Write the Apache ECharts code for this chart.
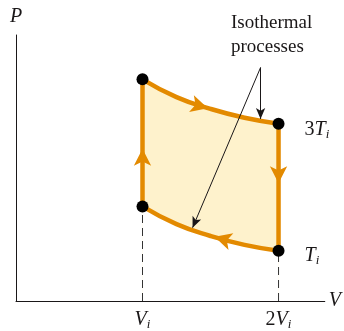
<!DOCTYPE html>
<html>
<head>
<meta charset="utf-8">
<script src="https://cdn.jsdelivr.net/npm/echarts@6/dist/echarts.min.js"></script>
<style>
  html, body { margin: 0; padding: 0; background: #fff; }
  #container { width: 344px; height: 331px; }
</style>
</head>
<body>
<div id="container"></div>
<script>
// volumes (Vi = 1) and the two isotherms
var vols = [1, 1.25, 1.5, 1.75, 2];
var hotP = [7.5, 6.9, 6.5, 6.2, 6.0];   // 3Ti
var coldP = [3.2, 2.6, 2.2, 1.9, 1.7];  // Ti
var xTicks = [1, 2];
var xTickText = ['{it|V}{sub|i}', '{n|2}{it|V}{sub|i}'];
var isoText = ['Isothermal', 'processes'];
var tempText = ['{n|3}{it|T}{sub|i}', '{it|T}{sub|i}'];
// arrow heads on the cycle: [V, P, rotate]
var heads = [[1.48, 6.52, -106], [1.53, 2.17, 74], [1, 5.15, 0], [2, 3.98, 180]];
// pointer lines from the annotation
var pointerFrom = [1.868, 7.9];
var pointerTo = [[1.868, 6.16], [1.368, 2.48]];

var ink = '#1a1718';
var orange = '#e38a00';
var serif = '"Liberation Serif", "DejaVu Serif", serif';

var upperPts = [], lowerPts = [];
for (var i = 0; i < vols.length; i++) {
  upperPts.push([vols[i], hotP[i]]);
  lowerPts.push([vols[i], coldP[i]]);
}
var last = vols.length - 1;

var rich = {
  it: { fontFamily: serif, fontStyle: 'italic', fontSize: 20, color: ink, lineHeight: 22 },
  n: { fontFamily: serif, fontSize: 20, color: ink, lineHeight: 22 },
  sub: { fontFamily: serif, fontStyle: 'italic', fontSize: 13, color: ink, lineHeight: 22, verticalAlign: 'bottom', padding: [10, 0, 0, 0] }
};

var myChart = echarts.init(document.getElementById('container'));
var option = {
  animation: false,
  grid: { left: 16, right: 19, top: 35, bottom: 27 },
  xAxis: {
    type: 'value', min: 0.07, max: 2.34,
    name: 'V', nameLocation: 'end', nameGap: 4,
    nameTextStyle: { fontFamily: serif, fontStyle: 'italic', fontSize: 20, color: ink, padding: [0, 0, 2, 0] },
    axisLine: { show: true, lineStyle: { color: ink, width: 1 } },
    axisTick: { show: false },
    splitLine: { show: false },
    axisLabel: {
      customValues: xTicks, margin: 8, rich: rich,
      formatter: function (v) { return xTickText[xTicks.indexOf(v)] || ''; }
    }
  },
  yAxis: {
    type: 'value', min: 0, max: 9,
    name: 'P', nameLocation: 'end', nameGap: 8,
    nameTextStyle: { fontFamily: serif, fontStyle: 'italic', fontSize: 20, color: ink, align: 'center' },
    axisLine: { show: true, lineStyle: { color: ink, width: 1 } },
    axisTick: { show: false },
    splitLine: { show: false },
    axisLabel: { show: false }
  },
  graphic: [{
    type: 'text', left: 231, top: 11, z: 10,
    style: { text: isoText.join('\n'), fontFamily: serif, fontSize: 19, lineHeight: 24, fill: ink, align: 'center', x: 46 }
  }],
  series: [
    // shaded cycle: fill under the hot isotherm, then blank out under the cold one
    { type: 'line', data: upperPts, smooth: true, symbol: 'none', lineStyle: { opacity: 0 },
      areaStyle: { color: '#fef2cc', opacity: 1, origin: 0.1 }, z: 1 },
    { type: 'line', data: lowerPts, smooth: true, symbol: 'none', lineStyle: { opacity: 0 },
      areaStyle: { color: '#ffffff', opacity: 1, origin: 0.1 }, z: 1 },
    // dashed drop lines
    { type: 'line', data: [[vols[0], 0], [vols[0], coldP[0]]], symbol: 'none', lineStyle: { color: '#333', width: 1, type: [8, 5] }, z: 2 },
    { type: 'line', data: [[vols[last], 0], [vols[last], coldP[last]]], symbol: 'none', lineStyle: { color: '#333', width: 1, type: [8, 5] }, z: 2 },
    // cycle outline
    { type: 'line', data: upperPts, smooth: true, symbol: 'none', lineStyle: { color: orange, width: 4.5 }, z: 3 },
    { type: 'line', data: lowerPts, smooth: true, symbol: 'none', lineStyle: { color: orange, width: 4.5 }, z: 3 },
    { type: 'line', data: [[vols[0], coldP[0]], [vols[0], hotP[0]]], symbol: 'none', lineStyle: { color: orange, width: 4.5 }, z: 3 },
    { type: 'line', data: [[vols[last], hotP[last]], [vols[last], coldP[last]]], symbol: 'none', lineStyle: { color: orange, width: 4.5 }, z: 3,
      markLine: {
        silent: true, symbol: ['none', 'arrow'], symbolSize: [7, 11],
        lineStyle: { color: ink, width: 1, type: 'solid' }, label: { show: false },
        data: pointerTo.map(function (p) { return [{ coord: pointerFrom }, { coord: p }]; })
      }
    },
    { type: 'scatter', symbol: 'arrow', symbolSize: [13, 17], itemStyle: { color: orange, opacity: 1 }, z: 4,
      data: heads.map(function (h) { return { value: [h[0], h[1]], symbolRotate: h[2] }; }) },
    // corner dots, with the isotherm temperatures on the right-hand pair
    { type: 'scatter', symbolSize: 12, itemStyle: { color: '#000', opacity: 1 }, z: 5,
      data: [
        [vols[0], hotP[0]], [vols[0], coldP[0]],
        { value: [vols[last], hotP[last]], label: { show: true, position: 'right', distance: 20, offset: [0, 6], color: ink, rich: rich, formatter: tempText[0] } },
        { value: [vols[last], coldP[last]], label: { show: true, position: 'right', distance: 20, offset: [0, 5], color: ink, rich: rich, formatter: tempText[1] } }
      ] }
  ]
};
myChart.setOption(option);
</script>
</body>
</html>
